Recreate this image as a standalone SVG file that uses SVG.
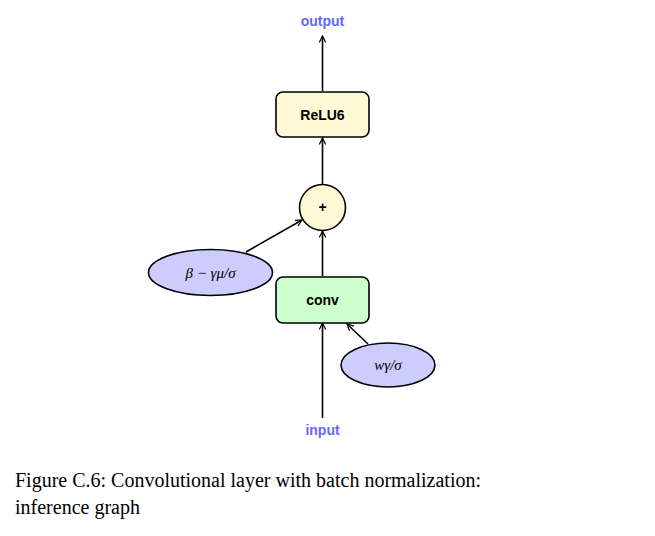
<svg xmlns="http://www.w3.org/2000/svg" width="655" height="536" viewBox="0 0 655 536">
<defs>
<marker id="ah" viewBox="0 0 10 10" refX="9" refY="5" markerWidth="8" markerHeight="8" markerUnits="userSpaceOnUse" orient="auto"><path d="M1,1 L9,5 L1,9" fill="none" stroke="#000" stroke-width="1.5"/></marker>
<style>
.lbl{font-family:"Liberation Sans",Arial,sans-serif;font-weight:bold;font-size:14px;fill:#6666ff;text-anchor:middle}
.nt{font-family:"Liberation Sans",Arial,sans-serif;font-weight:bold;font-size:14px;fill:#000;text-anchor:middle}
.math{font-family:"Liberation Serif","Times New Roman",serif;font-style:italic;font-size:15px;fill:#000;text-anchor:middle}
.cap{font-family:"Liberation Serif","Times New Roman",serif;font-size:20px;fill:#000}
.c{stroke:#000;stroke-width:1.6;fill:none;marker-end:url(#ah)}
</style>
</defs>
<rect width="655" height="536" fill="#fff"/>
<g id="connectors">
<line class="c" x1="322.5" y1="91" x2="322.5" y2="36"/>
<line class="c" x1="322.5" y1="184" x2="322.5" y2="138"/>
<line class="c" x1="322.5" y1="276" x2="322.5" y2="231"/>
<line class="c" x1="246" y1="252" x2="302" y2="220"/>
<line class="c" x1="322.5" y1="418" x2="322.5" y2="323"/>
<line class="c" x1="368" y1="344" x2="347" y2="324"/>
</g>
<g id="output"><text class="lbl" x="322.5" y="26">output</text></g>
<g id="relu6"><rect x="276" y="92" width="93" height="45" rx="7" fill="#fff9d6" stroke="#000" stroke-width="1.6"/><text class="nt" x="322.5" y="119.5">ReLU6</text></g>
<g id="plus"><circle cx="322.5" cy="207.5" r="23" fill="#fff9d6" stroke="#000" stroke-width="1.6"/><text class="nt" x="322.5" y="212" font-size="12">+</text></g>
<g id="bias"><ellipse cx="210.5" cy="272.5" rx="62" ry="23" fill="#ccccff" stroke="#000" stroke-width="1.6"/><text class="math" x="210.5" y="278">β − γμ/σ</text></g>
<g id="conv"><rect x="276" y="277" width="93" height="46" rx="7" fill="#ccffcc" stroke="#000" stroke-width="1.6"/><text class="nt" x="322.5" y="305">conv</text></g>
<g id="weight"><ellipse cx="388" cy="365" rx="47" ry="22" fill="#ccccff" stroke="#000" stroke-width="1.6"/><text class="math" x="388" y="370">wγ/σ</text></g>
<g id="input"><text class="lbl" x="322.5" y="435">input</text></g>
<g id="caption">
<text class="cap" x="15" y="487">Figure C.6: Convolutional layer with batch normalization:</text>
<text class="cap" x="15" y="514">inference graph</text>
</g>
</svg>
